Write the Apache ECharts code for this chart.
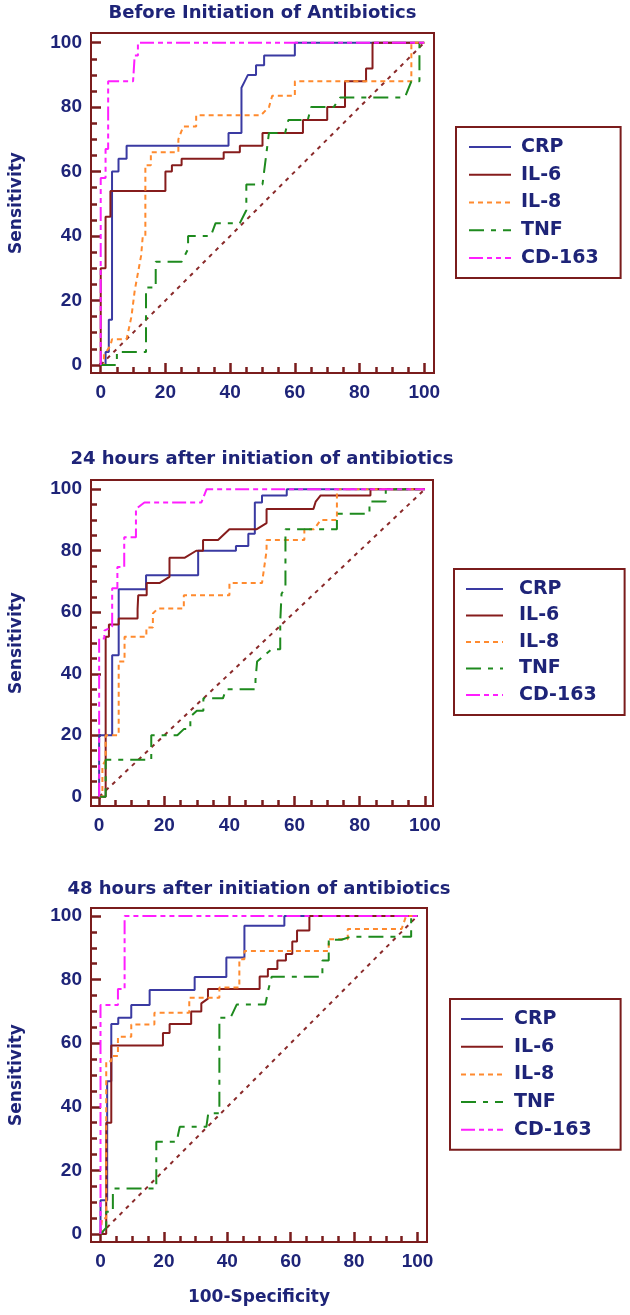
<!DOCTYPE html>
<html>
<head>
<meta charset="utf-8">
<script src="https://cdn.jsdelivr.net/npm/echarts@6/dist/echarts.min.js"></script>
<style>
  html, body { margin: 0; padding: 0; background: #ffffff; }
  #roc { width: 630px; height: 1315px; }
</style>
</head>
<body>
<div id="roc"></div>
<script>
// markers in legend order
const markers = ['CRP', 'IL-6', 'IL-8', 'TNF', 'CD-163'];
const panelTitles = [
  'Before Initiation of Antibiotics',
  '24 hours after initiation of antibiotics',
  '48 hours after initiation of antibiotics'
];
const tickValues = [0, 20, 40, 60, 80, 100];
const minorTickValues = [0, 5, 10, 15, 20, 25, 30, 35, 40, 45, 50, 55, 60, 65, 70, 75, 80, 85, 90, 95, 100];
const diagonal = [[0, 0], [100, 100]];

// before antibiotics: [100-specificity, sensitivity]
const crpBefore = [[0,0],[1.5,0],[1.5,4],[2.5,4],[2.5,14],[3.5,14],[3.5,60],[5.5,60],[5.5,64],[8,64],[8,68],[39.5,68],[39.5,72],[43.5,72],[43.5,86],[44.5,88],[45.5,90],[48,90],[48,93],[50.5,93],[50.5,96],[60,96],[60,100],[100,100]];
const il6Before = [[0,0],[0,30],[1.5,30],[1.5,46],[3,46],[3,54],[20,54],[20,60],[22,60],[22,62],[25,62],[25,64],[38,64],[38,66],[43,66],[43,68],[50,68],[50,72],[62.5,72],[62.5,76],[70,76],[70,80],[75.5,80],[75.5,88],[82,88],[82,92],[84,92],[84,100],[100,100]];
const il8Before = [[0,0],[1,0],[1,3],[3,6],[3.5,8],[8,8],[9.5,15],[10.5,23],[12.5,34],[13,40],[13.8,40],[13.8,62],[15.5,62],[15.5,66],[24,66],[24,70],[25.5,74],[29.5,74],[29.5,77.5],[49.5,77.5],[52,80],[53,83.5],[60,83.5],[60,88],[96,88],[96,100],[100,100]];
const tnfBefore = [[0,0],[5,0],[5,4],[14,4],[14,24],[17,24],[17,32],[25,32],[27,36],[27,40],[34,40],[35.5,44],[43,44],[45,48],[45,56],[50,56],[51,64],[52,72],[57,72],[58,76],[64,76],[65,80],[72,80],[74,83],[94,83],[96,88],[98.5,88],[98.5,100],[100,100]];
const cd163Before = [[0,0],[0,58],[1.5,58],[1.5,67],[2.3,67],[2.3,88],[10,88],[10.5,96],[11.5,96],[11.5,100],[100,100]];

// 24 hours after initiation
const crp24 = [[0,0],[0,20],[4,20],[4,46],[6,46],[6,67.5],[14.4,67.5],[14.4,72],[30.4,72],[30.4,80],[42,80],[42,81.5],[45.8,81.5],[45.8,85.5],[47.8,85.5],[47.8,95.7],[50,95.7],[50,98],[57.6,98],[57.6,100],[100,100]];
const il6_24 = [[0,0],[2,0],[2,52],[3,52],[3,56],[6,56],[6,58],[11.8,58],[11.8,61],[12,65.5],[14.6,65.5],[14.6,69.5],[18.5,69.5],[21.6,71.5],[21.6,77.7],[26.2,77.7],[29.8,80],[31.9,80],[31.9,83.5],[36.5,83.5],[40,87],[48.4,87],[51.4,89],[51.4,93.6],[65.8,93.6],[66.5,96],[68,98],[83.3,98],[83.3,100],[100,100]];
const il8_24 = [[0,0],[1,0],[1,10],[2,12],[2,20],[6,20],[6,44],[7.8,44],[7.8,52],[14.5,52],[14.5,55],[16.5,55],[16.5,59.6],[18,61.2],[26,61.2],[26,65.5],[40,65.5],[40,69.5],[50,69.5],[51.4,80],[51.4,83.5],[63,83.5],[63,87],[66,87],[68,90],[73,90],[73,100],[100,100]];
const tnf24 = [[0,0],[2,0],[2,12],[16,12],[16,20],[24,20],[26,22],[28,22],[28,26],[30,28],[32,28],[32,32],[38,32],[39,35],[48,35],[48,38],[48.5,44],[53,48],[55.6,48],[55.6,57],[56,66],[57.2,68],[57.2,87],[73,87],[73,92],[83,92],[83,96],[88,96],[88,100],[100,100]];
const cd163_24 = [[0,0],[0,51.5],[1.6,51.5],[1.6,54],[4,55.3],[4,67.8],[5.6,67.8],[5.6,74.7],[7.7,74.7],[7.7,84.4],[11.3,84.4],[11.3,93.6],[13.9,95.7],[31.4,95.7],[33,100],[100,100]];

// 48 hours after initiation
const crp48 = [[0,0],[0,10.6],[2.1,10.6],[2.1,48],[3.4,48],[3.4,66],[5.6,66],[5.6,68],[9.7,68],[9.7,72],[15.5,72],[15.5,76.7],[29.7,76.7],[29.7,80.8],[39.7,80.8],[39.7,86.9],[45.4,86.9],[45.4,96.9],[58,96.9],[58,100],[100,100]];
const il6_48 = [[0,0],[1.8,0],[1.8,35],[3.4,35],[3.4,59.3],[19.7,59.3],[19.7,63.2],[21.8,63.2],[21.8,66],[28.6,66],[28.6,70],[31.8,70],[31.8,72.5],[33.9,74],[33.9,77],[50.2,77],[50.2,81],[52.8,81],[52.8,83.3],[55.8,83.3],[55.8,86],[58.5,86],[58.5,88],[60.5,88],[60.5,92],[62,92],[62,95.4],[65.9,95.4],[65.9,100],[100,100]];
const il8_48 = [[0,0],[0.5,0],[0.5,5],[1.8,5],[1.8,54.3],[3.4,54.3],[3.4,56],[5.5,56],[5.5,62],[9.7,62],[9.7,65.9],[17,65.9],[17,69.6],[28,69.6],[28,74.3],[37.5,74.3],[37.5,77.5],[43.8,77.5],[43.8,86.4],[45.4,86.4],[45.4,89],[72,89],[72,92.7],[78,92.7],[78,95.9],[95,95.9],[96.4,100],[100,100]];
const tnf48 = [[0,0],[1.8,2],[1.8,7],[3.9,7],[3.9,14.3],[17.6,14.3],[17.6,29],[24,29],[25,33.7],[33.4,33.7],[34,38],[37.5,38],[37.5,68],[41,68],[43,72.2],[52,72.2],[53,77],[54,80.9],[70,80.9],[70,86],[72,86],[72,92.5],[76,92.5],[79,93.5],[98,93.5],[98,100],[100,100]];
const cd163_48 = [[0,0],[0,72],[5.5,72],[5.5,77],[7.6,77],[7.6,100],[100,100]];

const panelData = [
  [crpBefore, il6Before, il8Before, tnfBefore, cd163Before],
  [crp24, il6_24, il8_24, tnf24, cd163_24],
  [crp48, il6_48, il8_48, tnf48, cd163_48]
];

const frameColor = '#7a1c1c';
const textColor = '#1e2478';
const lineStyles = {
  'CRP':    { color: '#3a3aa2', width: 2, type: 'solid' },
  'IL-6':   { color: '#861c1c', width: 2, type: 'solid' },
  'IL-8':   { color: '#ff8a2e', width: 2, type: [5, 4] },
  'TNF':    { color: '#1e8a1e', width: 2, type: [15, 7, 5, 7] },
  'CD-163': { color: '#ff1eff', width: 2, type: [14, 4, 5, 4, 5, 4] }
};

// layout of each panel (pixel boxes)
const panels = [
  { grid: { left: 91, top: 33, width: 343, height: 340 }, x: [-3, 103], y: [-2.5, 103], titleY: 13.5,
    legend: { left: 456, top: 127, itemWidth: 42, itemGap: 7.75, padding: [10, 22, 10, 12], gap: 5 } },
  { grid: { left: 91, top: 480, width: 342, height: 326 }, x: [-2.5, 102.5], y: [-3, 103], titleY: 459.5,
    legend: { left: 454, top: 569, itemWidth: 37, itemGap: 6.5, padding: [10, 28, 10, 11], gap: 11 } },
  { grid: { left: 91, top: 908, width: 336, height: 334 }, x: [-3, 103], y: [-2.5, 102.5], titleY: 889.5,
    legend: { left: 450, top: 999, itemWidth: 42, itemGap: 7.7, padding: [10, 29, 10, 10], gap: 6 } }
];

const chart = echarts.init(document.getElementById('roc'));

const labelStyle = { fontFamily: 'Liberation Sans', fontWeight: 'bold', fontSize: 19, color: textColor };

let grids = [], xAxes = [], yAxes = [], series = [], legends = [], texts = [];

panels.forEach((p, i) => {
  grids.push(Object.assign({ show: true, borderColor: frameColor, borderWidth: 2 }, p.grid));

  // labelled axes with long inner ticks
  xAxes.push({
    type: 'value', gridIndex: i, min: p.x[0], max: p.x[1], position: 'bottom',
    axisLine: { show: true, onZero: false, lineStyle: { color: frameColor, width: 2 } },
    axisTick: { show: true, inside: true, length: 10, customValues: tickValues,
                lineStyle: { color: frameColor, width: 2.5 } },
    axisLabel: Object.assign({ margin: 10, customValues: tickValues }, labelStyle),
    splitLine: { show: false }
  });
  // short ticks every 5
  xAxes.push({
    type: 'value', gridIndex: i, min: p.x[0], max: p.x[1], position: 'bottom',
    axisLine: { show: false, onZero: false },
    axisTick: { show: true, inside: true, length: 6, customValues: minorTickValues,
                lineStyle: { color: frameColor, width: 2.5 } },
    axisLabel: { show: false },
    splitLine: { show: false }
  });
  yAxes.push({
    type: 'value', gridIndex: i, min: p.y[0], max: p.y[1], position: 'left',
    axisLine: { show: true, onZero: false, lineStyle: { color: frameColor, width: 2 } },
    axisTick: { show: true, inside: true, length: 10, customValues: tickValues,
                lineStyle: { color: frameColor, width: 2.5 } },
    axisLabel: Object.assign({ margin: 9, customValues: tickValues }, labelStyle),
    splitLine: { show: false }
  });
  yAxes.push({
    type: 'value', gridIndex: i, min: p.y[0], max: p.y[1], position: 'left',
    axisLine: { show: false, onZero: false },
    axisTick: { show: true, inside: true, length: 6, customValues: minorTickValues,
                lineStyle: { color: frameColor, width: 2.5 } },
    axisLabel: { show: false },
    splitLine: { show: false }
  });

  // reference diagonal
  series.push({
    type: 'line', xAxisIndex: i * 2, yAxisIndex: i * 2, data: diagonal,
    symbol: 'none', silent: true, color: frameColor,
    lineStyle: { color: '#8a2a2a', width: 2, type: [4, 5] }
  });
  markers.forEach((m, k) => {
    series.push({
      type: 'line', name: m, xAxisIndex: i * 2, yAxisIndex: i * 2,
      data: panelData[i][k], symbol: 'none', showSymbol: false,
      color: lineStyles[m].color, lineStyle: lineStyles[m]
    });
  });

  legends.push({
    data: markers, orient: 'vertical', left: p.legend.left, top: p.legend.top,
    itemWidth: p.legend.itemWidth, itemHeight: 14, itemGap: p.legend.itemGap,
    padding: p.legend.padding, borderColor: frameColor, borderWidth: 2,
    selectedMode: false,
    itemStyle: { opacity: 0 },
    textStyle: { fontFamily: 'DejaVu Sans', fontWeight: 'bold', fontSize: 19, lineHeight: 20,
                 color: textColor, padding: [0, 0, 0, p.legend.gap] }
  });

  // panel title and axis name as plain text
  texts.push({
    type: 'text', x: p.grid.left + p.grid.width / 2, y: p.titleY,
    style: { text: panelTitles[i], align: 'center', verticalAlign: 'middle',
             font: 'bold 18px "DejaVu Sans"', fill: textColor }
  });
  texts.push({
    type: 'text', x: 17, y: p.grid.top + p.grid.height / 2, rotation: Math.PI / 2,
    style: { text: 'Sensitivity', align: 'center', verticalAlign: 'middle',
             font: 'bold 17px "DejaVu Sans"', fill: textColor }
  });
});

texts.push({
  type: 'text', x: 259, y: 1298,
  style: { text: '100-Specificity', align: 'center', verticalAlign: 'middle',
           font: 'bold 17px "DejaVu Sans"', fill: textColor }
});

chart.setOption({
  animation: false,
  grid: grids,
  xAxis: xAxes,
  yAxis: yAxes,
  legend: legends,
  graphic: texts,
  series: series
});
</script>
</body>
</html>
